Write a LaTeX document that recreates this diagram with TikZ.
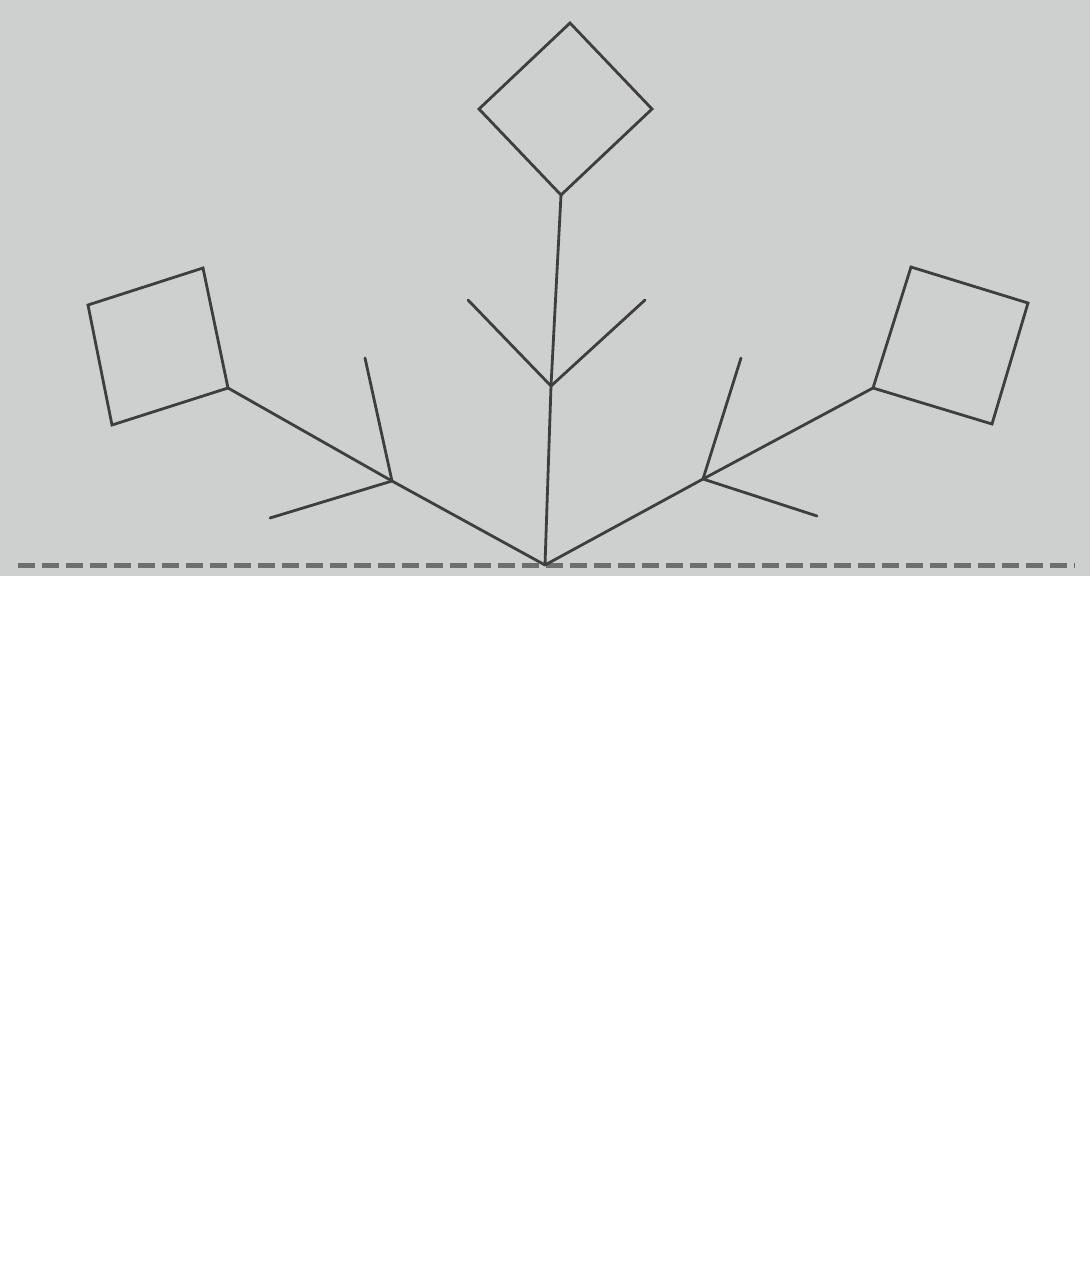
\documentclass[tikz,border=0pt]{standalone}
\definecolor{paper}{RGB}{206,208,207}
\definecolor{ink}{RGB}{62,62,62}
\definecolor{dashink}{RGB}{110,110,110}
\tikzset{
  stroke/.style={draw=ink, line width=2.8pt, line join=miter, line cap=round},
  baseline dash/.style={draw=dashink, line width=5pt, dash pattern=on 17pt off 7pt},
}
\begin{document}
\begin{tikzpicture}[x=1pt,y=-1pt]
\useasboundingbox (0,0) rectangle (1090,1288);
\fill[white] (0,0) rectangle (1090,1288);
\fill[paper] (0,0) rectangle (1090,576);
% baseline
\coordinate (bl) at (18,565);
\coordinate (br) at (1075,565);
\draw[baseline dash] (bl) -- (br);
% root
\coordinate (O) at (545,565);
% centre stem
\coordinate (Cb) at (551,386);
\coordinate (Ct) at (561,195);
\coordinate (CtipL) at (468,300);
\coordinate (CtipR) at (645,300);
% top diamond
\coordinate (Dl) at (479,109);
\coordinate (Dt) at (570,23);
\coordinate (Dr) at (652,109);
% left branch
\coordinate (Lb) at (392,481);
\coordinate (La) at (228,388);
\coordinate (LtipU) at (365,358);
\coordinate (LtipD) at (270,518);
% left square
\coordinate (Ls1) at (203,268);
\coordinate (Ls2) at (88,305);
\coordinate (Ls3) at (112,425);
% right branch
\coordinate (Rb) at (703,479);
\coordinate (Ra) at (873,388);
\coordinate (RtipU) at (741,358);
\coordinate (RtipD) at (817,516);
% right square
\coordinate (Rs1) at (911,267);
\coordinate (Rs2) at (1028,303);
\coordinate (Rs3) at (992,424);
% strokes
\draw[stroke] (O) -- (Cb) -- (Ct);
\draw[stroke] (CtipL) -- (Cb) -- (CtipR);
\draw[stroke] (Ct) -- (Dl) -- (Dt) -- (Dr) -- cycle;
\draw[stroke] (O) -- (Lb) -- (La);
\draw[stroke] (LtipU) -- (Lb) -- (LtipD);
\draw[stroke] (La) -- (Ls1) -- (Ls2) -- (Ls3) -- cycle;
\draw[stroke] (O) -- (Rb) -- (Ra);
\draw[stroke] (RtipU) -- (Rb) -- (RtipD);
\draw[stroke] (Ra) -- (Rs1) -- (Rs2) -- (Rs3) -- cycle;
\end{tikzpicture}
\end{document}
